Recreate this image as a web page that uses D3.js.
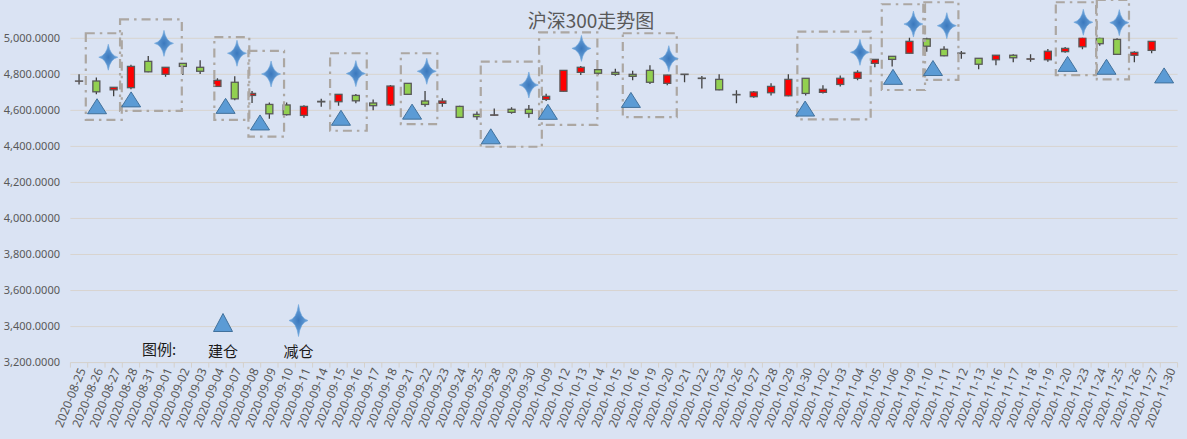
<!DOCTYPE html>
<html>
<head>
<meta charset="utf-8">
<script src="https://cdn.jsdelivr.net/npm/d3@7"></script>
<style>
  body { margin: 0; background: #dae3f3; }
  svg { display: block; }
</style>
</head>
<body>
<div id="chart"></div>
<script>
// trading days on the category axis
const dates = [
  "2020-08-25","2020-08-26","2020-08-27","2020-08-28","2020-08-31",
  "2020-09-01","2020-09-02","2020-09-03","2020-09-04","2020-09-07","2020-09-08","2020-09-09","2020-09-10","2020-09-11",
  "2020-09-14","2020-09-15","2020-09-16","2020-09-17","2020-09-18","2020-09-21","2020-09-22","2020-09-23","2020-09-24",
  "2020-09-25","2020-09-28","2020-09-29","2020-09-30",
  "2020-10-09","2020-10-12","2020-10-13","2020-10-14","2020-10-15","2020-10-16","2020-10-19","2020-10-20","2020-10-21",
  "2020-10-22","2020-10-23","2020-10-26","2020-10-27","2020-10-28","2020-10-29","2020-10-30",
  "2020-11-02","2020-11-03","2020-11-04","2020-11-05","2020-11-06","2020-11-09","2020-11-10","2020-11-11","2020-11-12",
  "2020-11-13","2020-11-16","2020-11-17","2020-11-18","2020-11-19","2020-11-20","2020-11-23","2020-11-24","2020-11-25",
  "2020-11-26","2020-11-27","2020-11-30"
];

// OHLC (11-30 has no candle)
const open  = [4762,4763,4714,4726,4872,4800,4861,4839,4733,4756,4683,4633,4630,4572,4647,4648,4683,4641,4630,4750,4652,4639,4622,
               4578,4573,4606,4606,4661,4706,4811,4826,4811,4800,4822,4750,4801,4777,4772,4686,4676,4698,4681,4778,
               4700,4744,4778,4861,4900,4917,4997,4939,4916,4889,4881,4906,4884,4881,4926,4953,5003,4994,4906,4933,null];
const high  = [4800,4783,4730,4853,4902,4841,4862,4878,4778,4789,4707,4644,4644,4628,4664,4690,4691,4661,4741,4752,4707,4667,4625,
               4594,4611,4617,4630,4692,4824,4846,4828,4831,4820,4850,4798,4802,4791,4800,4711,4707,4750,4800,4780,
               4739,4794,4822,4885,4901,5010,5010,4956,4929,4891,4908,4911,4911,4941,4952,5010,5010,5000,4928,4985,null];
const low   = [4744,4690,4678,4717,4812,4787,4796,4802,4730,4656,4641,4553,4572,4559,4620,4626,4639,4600,4624,4687,4620,4620,4559,
               4548,4570,4581,4559,4652,4704,4796,4796,4792,4767,4746,4739,4756,4722,4712,4639,4670,4683,4678,4683,
               4694,4733,4767,4839,4844,4915,4926,4901,4887,4828,4850,4867,4870,4870,4920,4939,4959,4909,4867,4917,null];
const close = [4763,4703,4728,4844,4814,4839,4844,4817,4767,4664,4694,4581,4576,4622,4650,4689,4653,4626,4735,4689,4633,4652,4561,
               4565,4575,4589,4583,4678,4822,4839,4806,4800,4789,4756,4796,4799,4779,4714,4688,4702,4733,4772,4694,
               4717,4778,4811,4883,4883,4983,4956,4903,4918,4856,4906,4892,4886,4928,4944,5004,4970,4911,4922,4983,null];

const yTicks = [3200,3400,3600,3800,4000,4200,4400,4600,4800,5000];

// 建仓 markers: position on the category axis (fractional index) and level
const buildPos = [1.04,3.01,8.47,10.46,15.14,19.25,23.8,27.1,31.9,41.97,47.05,49.36,57.14,59.39,62.72];
const buildVal = [4623,4661,4625,4533,4559,4593,4456,4592,4658,4610,4786,4835,4858,4842,4794];

// 减仓 markers
const cutPos = [1.69,4.91,9.13,11.1,16.0,20.1,26.0,29.04,34.09,45.14,48.23,50.16,58.05,60.13];
const cutVal = [4895,4972,4917,4802,4804,4817,4741,4944,4887,4922,5079,5070,5089,5087];

// dashed boxes round each trade: index range and level range
const boxFrom   = [0.39,2.37,7.82,9.79,14.51,18.6,23.22,26.59,31.43,41.52,46.4,48.8,56.46,58.83];
const boxTo     = [2.47,5.94,9.84,11.85,16.63,20.71,26.75,29.96,34.55,45.76,48.9,50.83,58.79,60.69];
const boxTop    = [5028,5105,5006,4930,4917,4917,4870,5033,5028,5037,5189,5200,5200,5213];
const boxBottom = [4547,4597,4547,4454,4487,4524,4398,4519,4562,4550,4713,4769,4796,4772];

const width = 1187, height = 439;
const mLeft = 70.4, mRight = 1177.6, mTop = 38.3, mBottom = 362.6;

const svg = d3.select("#chart").append("svg")
  .attr("width", width).attr("height", height);

svg.append("rect").attr("width", width).attr("height", height).attr("fill", "#dae3f3");

const defs = svg.append("defs");
defs.append("clipPath").attr("id", "plot")
  .append("rect").attr("x", mLeft).attr("y", mTop - 0.5)
  .attr("width", mRight - mLeft).attr("height", mBottom - mTop + 1);

const grad = defs.append("radialGradient").attr("id", "starFill");
grad.append("stop").attr("offset", "0%").attr("stop-color", "#3a78bd");
grad.append("stop").attr("offset", "100%").attr("stop-color", "#6fa6dc");

const x = d3.scaleBand().domain(dates).range([mLeft, mRight]);
const xi = d3.scaleLinear().domain([-0.5, dates.length - 0.5]).range([mLeft, mRight]);
const y = d3.scaleLinear().domain([3200, 5000]).range([mBottom, mTop]);

// gridlines
svg.append("g")
  .selectAll("line")
  .data(yTicks.slice(1))
  .join("line")
    .attr("x1", mLeft).attr("x2", mRight)
    .attr("y1", d => y(d)).attr("y2", d => y(d))
    .attr("stroke", "#d8d4cf").attr("stroke-width", 1);

// y labels
svg.append("g")
  .selectAll("text")
  .data(yTicks)
  .join("text")
    .attr("x", 60).attr("y", d => y(d)).attr("dy", "0.35em")
    .attr("text-anchor", "end")
    .attr("font-family", "'Noto Sans', sans-serif").attr("font-size", 11)
    .attr("fill", "#595959")
    .text(d => d3.format(",.4f")(d));

// x axis line and ticks between categories
svg.append("line")
  .attr("x1", mLeft).attr("x2", mRight).attr("y1", mBottom).attr("y2", mBottom)
  .attr("stroke", "#d4d0cb");
svg.append("g")
  .selectAll("line")
  .data(d3.range(dates.length + 1))
  .join("line")
    .attr("x1", d => xi(d - 0.5)).attr("x2", d => xi(d - 0.5))
    .attr("y1", mBottom).attr("y2", mBottom + 5)
    .attr("stroke", "#d4d0cb");

svg.append("g")
  .selectAll("text")
  .data(dates)
  .join("text")
    .attr("transform", d => `translate(${x(d) + x.bandwidth() / 2 + 3},${mBottom + 6}) rotate(-68)`)
    .attr("dy", "0.35em")
    .attr("text-anchor", "end")
    .attr("font-family", "'Noto Sans', sans-serif").attr("font-size", 12)
    .attr("fill", "#595959")
    .text(d => d);

// candles
const candles = dates.map((d, i) => ({date: d, o: open[i], h: high[i], l: low[i], c: close[i]}))
  .filter(d => d.o != null);
const bodyW = 7;
const cg = svg.append("g").attr("clip-path", "url(#plot)");
cg.selectAll("line")
  .data(candles)
  .join("line")
    .attr("x1", d => x(d.date) + x.bandwidth() / 2).attr("x2", d => x(d.date) + x.bandwidth() / 2)
    .attr("y1", d => y(d.h)).attr("y2", d => y(d.l))
    .attr("stroke", "#404040").attr("stroke-width", 1.3);
cg.selectAll("rect")
  .data(candles)
  .join("rect")
    .attr("x", d => x(d.date) + x.bandwidth() / 2 - bodyW / 2)
    .attr("width", bodyW)
    .attr("y", d => y(Math.max(d.o, d.c)))
    .attr("height", d => Math.max(0.01, Math.abs(y(d.o) - y(d.c))))
    .attr("fill", d => d.c >= d.o ? "#ff0000" : "#92d050")
    .attr("stroke", "#595959").attr("stroke-width", 1.3);

// marker shapes
const tri = (cx, cy, w, h) => `M${cx},${cy - h / 2}L${cx + w / 2},${cy + h / 2}L${cx - w / 2},${cy + h / 2}Z`;
const star = (cx, cy, w, h) => {
  const r = 1.8;
  return `M${cx},${cy - h / 2}Q${cx + r},${cy - r} ${cx + w / 2},${cy}` +
         `Q${cx + r},${cy + r} ${cx},${cy + h / 2}` +
         `Q${cx - r},${cy + r} ${cx - w / 2},${cy}` +
         `Q${cx - r},${cy - r} ${cx},${cy - h / 2}Z`;
};

// dashed boxes
svg.append("g")
  .selectAll("rect")
  .data(boxFrom.map((f, i) => ({f, t: boxTo[i], hi: boxTop[i], lo: boxBottom[i]})))
  .join("rect")
    .attr("x", d => xi(d.f)).attr("width", d => xi(d.t) - xi(d.f))
    .attr("y", d => y(d.hi)).attr("height", d => y(d.lo) - y(d.hi))
    .attr("fill", "none")
    .attr("stroke", "#aca7a2").attr("stroke-width", 2.2)
    .attr("stroke-dasharray", "9,5,2.5,5");

svg.append("g")
  .selectAll("path")
  .data(buildPos.map((p, i) => ({p, v: buildVal[i]})))
  .join("path")
    .attr("d", d => tri(xi(d.p), y(d.v), 19, 15))
    .attr("fill", "#5b9bd5").attr("stroke", "#41719c").attr("stroke-width", 1);

svg.append("g")
  .selectAll("path")
  .data(cutPos.map((p, i) => ({p, v: cutVal[i]})))
  .join("path")
    .attr("d", d => star(xi(d.p), y(d.v), 19, 26))
    .attr("fill", "url(#starFill)").attr("stroke", "#6fa6dc").attr("stroke-width", 0.6);

// title
svg.append("text")
  .attr("x", 591).attr("y", 21).attr("dy", "0.35em")
  .attr("text-anchor", "middle")
  .attr("font-family", "'Noto Sans CJK SC', sans-serif").attr("font-size", 19)
  .attr("fill", "#595959")
  .text("沪深300走势图");

// legend
const lg = svg.append("g")
  .attr("font-family", "'Noto Sans CJK SC', sans-serif").attr("font-size", 15)
  .attr("fill", "#1a1a1a");
lg.append("text").attr("x", 142).attr("y", 350).attr("dy", "0.35em").text("图例:");
lg.append("path").attr("d", tri(223, 322.5, 19, 18))
  .attr("fill", "#5b9bd5").attr("stroke", "#41719c").attr("stroke-width", 1);
lg.append("text").attr("x", 223).attr("y", 352).attr("dy", "0.35em").attr("text-anchor", "middle").text("建仓");
lg.append("path").attr("d", star(298.5, 320.5, 19, 32))
  .attr("fill", "url(#starFill)").attr("stroke", "#6fa6dc").attr("stroke-width", 0.6);
lg.append("text").attr("x", 298.5).attr("y", 352).attr("dy", "0.35em").attr("text-anchor", "middle").text("减仓");
</script>
</body>
</html>
